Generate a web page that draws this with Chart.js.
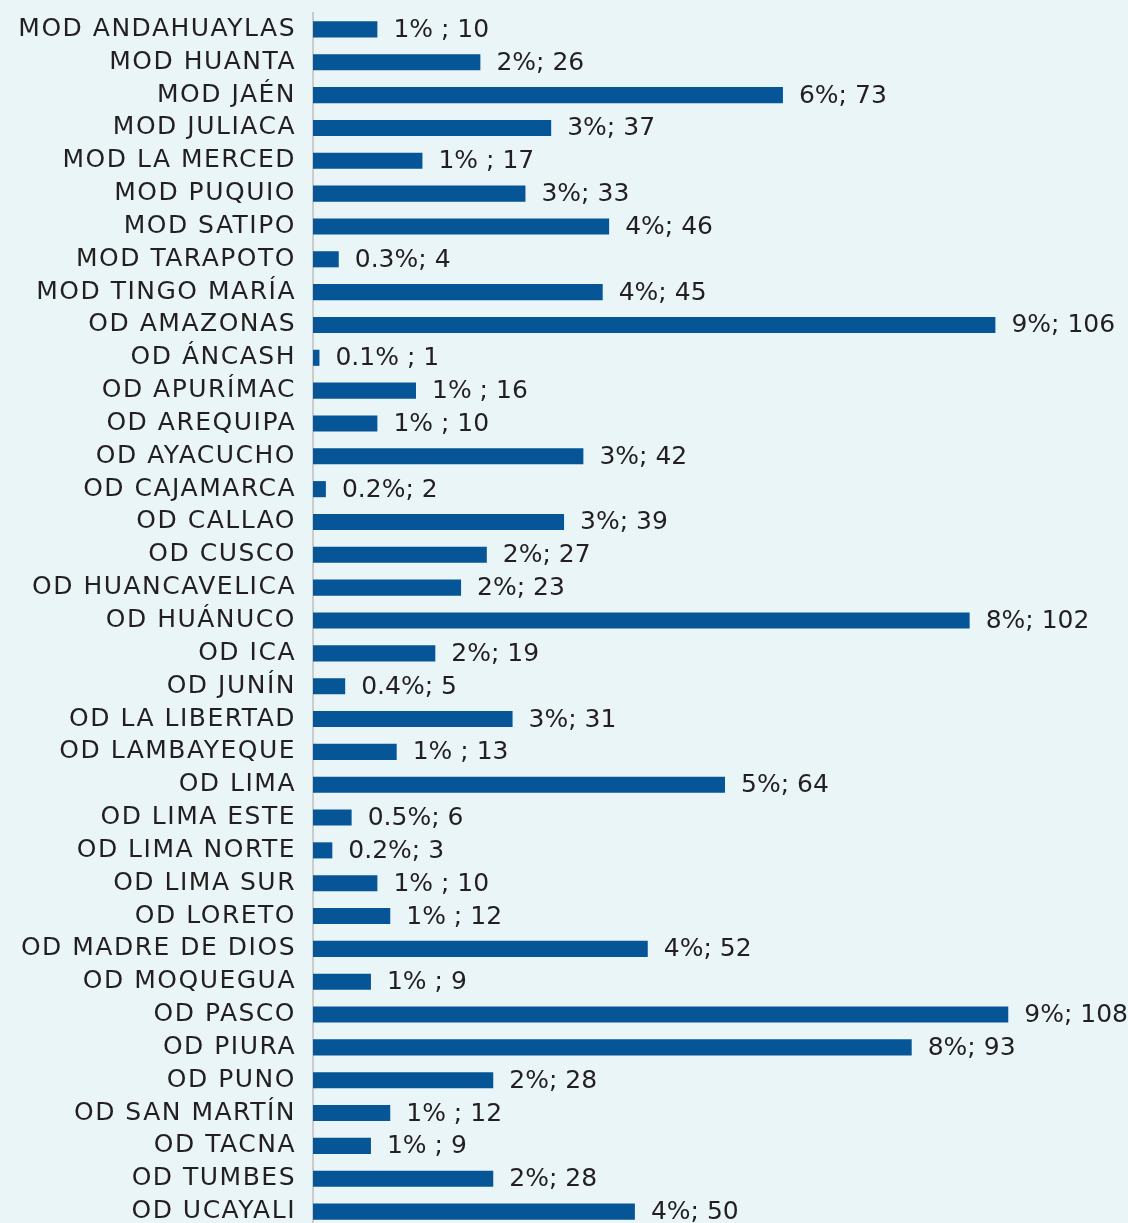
<!DOCTYPE html>
<html lang="es">

<head>
    <meta charset="utf-8" />
    <title>Casos por oficina</title>
    <script src="https://cdn.jsdelivr.net/npm/chart.js@4/dist/chart.umd.min.js"></script>
    <style>
        html, body { margin: 0; padding: 0; background: #eaf5f8; overflow: hidden; }
        #wrap { width: 1128px; height: 1228px; }
    </style>
</head>

<body>
    <div id="wrap"><canvas id="chart" width="1128" height="1228"></canvas></div>

    <script>
        // Oficinas (eje vertical)
        var oficinas = [
            "MOD ANDAHUAYLAS", "MOD HUANTA", "MOD JAÉN", "MOD JULIACA", "MOD LA MERCED",
            "MOD PUQUIO", "MOD SATIPO", "MOD TARAPOTO", "MOD TINGO MARÍA", "OD AMAZONAS",
            "OD ÁNCASH", "OD APURÍMAC", "OD AREQUIPA", "OD AYACUCHO", "OD CAJAMARCA",
            "OD CALLAO", "OD CUSCO", "OD HUANCAVELICA", "OD HUÁNUCO", "OD ICA",
            "OD JUNÍN", "OD LA LIBERTAD", "OD LAMBAYEQUE", "OD LIMA", "OD LIMA ESTE",
            "OD LIMA NORTE", "OD LIMA SUR", "OD LORETO", "OD MADRE DE DIOS", "OD MOQUEGUA",
            "OD PASCO", "OD PIURA", "OD PUNO", "OD SAN MARTÍN", "OD TACNA",
            "OD TUMBES", "OD UCAYALI"
        ];

        // Número de casos
        var casos = [
            10, 26, 73, 37, 17,
            33, 46, 4, 45, 106,
            1, 16, 10, 42, 2,
            39, 27, 23, 102, 19,
            5, 31, 13, 64, 6,
            3, 10, 12, 52, 9,
            108, 93, 28, 12, 9,
            28, 50
        ];

        // Etiquetas "porcentaje; casos" tal como aparecen
        var etiquetas = [
            "1% ; 10", "2%; 26", "6%; 73", "3%; 37", "1% ; 17",
            "3%; 33", "4%; 46", "0.3%; 4", "4%; 45", "9%; 106",
            "0.1% ; 1", "1% ; 16", "1% ; 10", "3%; 42", "0.2%; 2",
            "3%; 39", "2%; 27", "2%; 23", "8%; 102", "2%; 19",
            "0.4%; 5", "3%; 31", "1% ; 13", "5%; 64", "0.5%; 6",
            "0.2%; 3", "1% ; 10", "1% ; 12", "4%; 52", "1% ; 9",
            "9%; 108", "8%; 93", "2%; 28", "1% ; 12", "1% ; 9",
            "2%; 28", "4%; 50"
        ];

        var fuente = '"DejaVu Sans", sans-serif';
        var azul = '#055597';

        // letras algo más abiertas en los nombres del eje
        var espaciado = {
            id: 'espaciado',
            beforeDraw: function (chart) { chart.ctx.letterSpacing = '1.5px'; }
        };

        // dibuja la etiqueta a la derecha de cada barra
        var etiquetasBarras = {
            id: 'etiquetasBarras',
            afterDatasetsDraw: function (chart) {
                var ctx = chart.ctx;
                var meta = chart.getDatasetMeta(0);
                ctx.save();
                ctx.letterSpacing = '0px';
                ctx.font = '25px ' + fuente;
                ctx.fillStyle = '#231f20';
                ctx.textAlign = 'left';
                ctx.textBaseline = 'middle';
                meta.data.forEach(function (bar, i) {
                    ctx.fillText(etiquetas[i], bar.x + 16, bar.y + 1);
                });
                ctx.restore();
            }
        };

        new Chart(document.getElementById('chart'), {
            type: 'bar',
            data: {
                labels: oficinas,
                datasets: [{
                    data: casos,
                    backgroundColor: azul,
                    borderWidth: 0,
                    barPercentage: 0.49,
                    categoryPercentage: 1
                }]
            },
            options: {
                indexAxis: 'y',
                responsive: false,
                animation: false,
                layout: { padding: { top: 13, bottom: 0, left: 0, right: 0 } },
                plugins: {
                    legend: { display: false },
                    tooltip: { enabled: false }
                },
                scales: {
                    x: {
                        display: false,
                        min: 0,
                        max: 126.6
                    },
                    y: {
                        grid: { display: false },
                        border: { display: true, color: '#cccccc', width: 2 },
                        ticks: {
                            autoSkip: false,
                            color: '#231f20',
                            font: { family: fuente, size: 25 },
                            padding: 9
                        },
                        afterFit: function (scale) {
                            scale.width = 313;
                            scale.paddingTop = 0;
                            scale.paddingBottom = 0;
                        }
                    }
                }
            },
            plugins: [espaciado, etiquetasBarras]
        });
    </script>
</body>

</html>
